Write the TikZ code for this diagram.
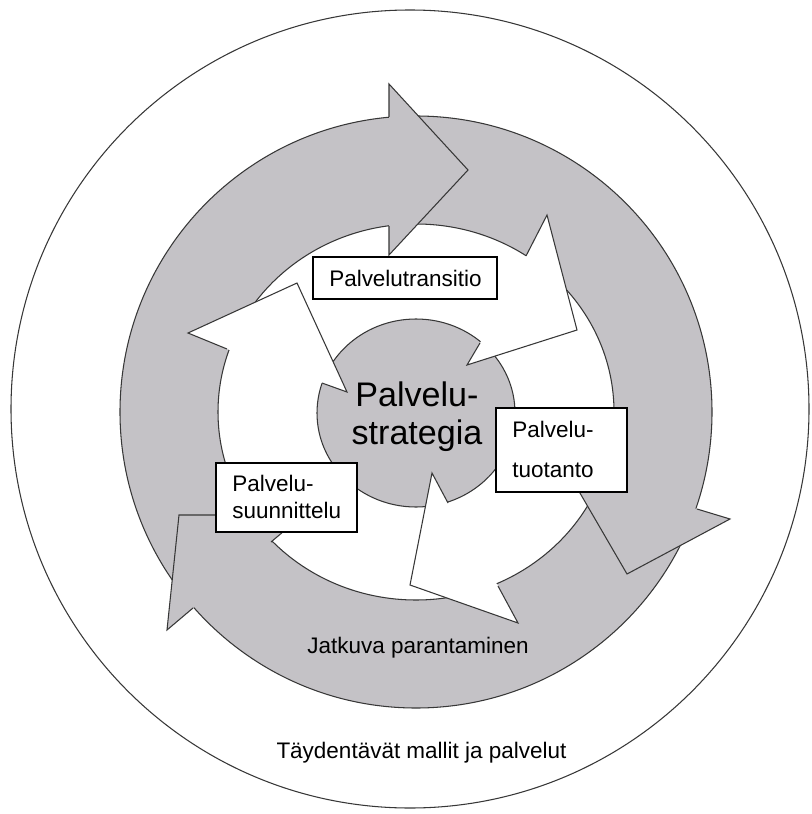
\documentclass[tikz,border=0pt]{standalone}
\usepackage{fontspec}
\setmainfont{Liberation Sans}
\definecolor{ringgray}{RGB}{196,194,198}
\definecolor{edgegray}{RGB}{55,55,55}
\begin{document}
\begin{tikzpicture}[x=0.02cm,y=-0.02cm,
  edge/.style={draw=edgegray, line width=0.6pt, line join=miter},
  labelbox/.style={draw=black, fill=white, line width=0.75pt, inner sep=0pt, outer sep=0pt},
  lbl/.style={font=\fontsize{12.8pt}{15pt}\selectfont, inner sep=0pt},
  core/.style={font=\fontsize{19.4pt}{21pt}\selectfont, inner sep=0pt}]
\useasboundingbox (0,0) rectangle (811,814);

% outer frame circle
\draw[edge, fill=white] (410,409) circle[radius=399];

% grey ring of the improvement cycle
\fill[ringgray, even odd rule] (416,412) circle[radius=296]
  (416,412) ellipse[x radius=198, y radius=188];
\draw[edge] (416,412) circle[radius=296];
\draw[edge] (416,412) ellipse[x radius=198, y radius=188];

% arrowheads of the grey ring
\coordinate (g1no) at (389,117); \coordinate (g1bo) at (389,84);
\coordinate (g1t) at (468,170);  \coordinate (g1bi) at (389,255);
\coordinate (g1ni) at (389,226);
\coordinate (g2no) at (697,509); \coordinate (g2bo) at (730,519);
\coordinate (g2t) at (627,574);  \coordinate (g2bi) at (566,469);
\coordinate (g2ni) at (600,480);
\coordinate (g3no) at (193,608); \coordinate (g3bo) at (167,630);
\coordinate (g3t) at (179,515);  \coordinate (g3bi) at (303,515);
\coordinate (g3ni) at (271,542);
\foreach \h in {g1,g2,g3}{
  \fill[ringgray] (\h no) -- (\h bo) -- (\h t) -- (\h bi) -- (\h ni) -- cycle;
  \draw[edge] (\h no) -- (\h bo) -- (\h t) -- (\h bi) -- (\h ni);
}

% central disc
\draw[edge, fill=ringgray] (416,413) ellipse[x radius=99, y radius=94];

% arrowheads of the white inner cycle
\coordinate (w1no) at (526,256); \coordinate (w1bo) at (547,215);
\coordinate (w1t) at (577,330);  \coordinate (w1bi) at (467,365);
\coordinate (w1ni) at (480,343);
\coordinate (w2no) at (498,586); \coordinate (w2bo) at (518,623);
\coordinate (w2t) at (410,585);  \coordinate (w2bi) at (432,473);
\coordinate (w2ni) at (448,503);
\coordinate (w3no) at (227,349); \coordinate (w3bo) at (188,333);
\coordinate (w3t) at (297,283);  \coordinate (w3bi) at (347,392);
\coordinate (w3ni) at (322,383);
\foreach \h in {w1,w2,w3}{
  \fill[white] (\h no) -- (\h bo) -- (\h t) -- (\h bi) -- (\h ni) -- cycle;
  \draw[edge] (\h no) -- (\h bo) -- (\h t) -- (\h bi) -- (\h ni);
}

% label boxes
\node[labelbox, minimum width=3.68cm, minimum height=0.84cm] (trans) at (405,278) {};
\node[labelbox, minimum width=2.62cm, minimum height=1.68cm] (prod) at (561.5,450) {};
\node[labelbox, minimum width=2.82cm, minimum height=1.38cm] (design) at (286.5,497.5) {};

% texts
\node[lbl, anchor=base] (transtext) at (405.5,286.7) {Palvelutransitio};
\node[lbl, anchor=base west] (prodA) at (512,437.3) {Palvelu-};
\node[lbl, anchor=base west] (prodB) at (512,477.3) {tuotanto};
\node[lbl, anchor=base west] (desA) at (232,491.7) {Palvelu-};
\node[lbl, anchor=base west] (desB) at (232,518.3) {suunnittelu};
\node[core, anchor=base] (coreA) at (417,406.7) {Palvelu-};
\node[core, anchor=base] (coreB) at (417,444) {strategia};
\node[lbl, anchor=base] (impr) at (418,653.3) {Jatkuva parantaminen};
\node[lbl, anchor=base] (compl) at (421.5,758) {Täydentävät mallit ja palvelut};
\end{tikzpicture}
\end{document}
